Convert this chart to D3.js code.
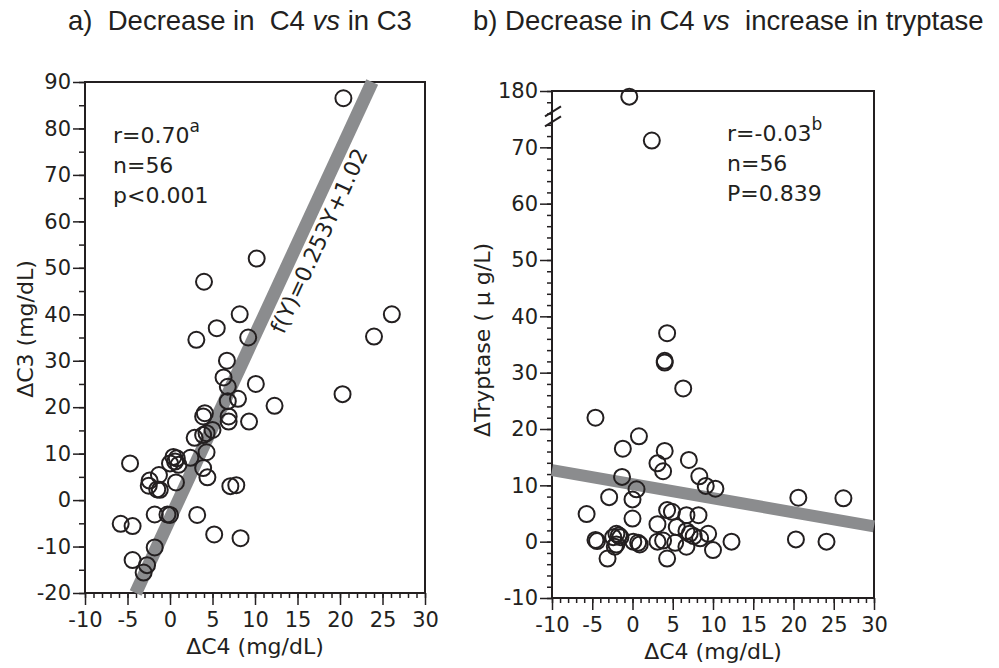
<!DOCTYPE html>
<html>
<head>
<meta charset="utf-8">
<script src="https://cdnjs.cloudflare.com/ajax/libs/d3/7.8.5/d3.min.js"></script>
<style>
  body { margin: 0; background: #fff; }
  svg { display: block; font-family: "DejaVu Sans", sans-serif; }
  .tick line { stroke: #231f20; stroke-width: 1.5px; }
  .tick text { fill: #231f20; }
  .domain { display: none; }
  .note { font-size: 22px; fill: #231f20; }
  .title { font-family: "Liberation Sans", Arial, sans-serif; font-size: 27.5px; fill: #231f20; }
  .axlabel { font-size: 22px; fill: #231f20; }
</style>
</head>
<body>
<svg id="chart" width="999" height="668"></svg>
<script>
// panel a: decrease in C4 (x) vs decrease in C3 (y)
var c4DropA = [20.4, 10.2, 4.0, 8.2, 5.5, 3.1, 9.2, 24.0, 26.1, 6.7, 6.3, 6.8, 10.1, 6.8, 8.0, 12.3, 20.3, 6.9, 6.9, 9.3,
  4.1, 3.9, 2.9, 3.9, 4.3, 5.0, 4.3, 2.4, 3.9, 4.4, 0.4, 0.8, 0.0, 0.6, 1.0, 0.7, -1.3, -2.4, -2.5, -1.5,
  -1.2, -4.7, 7.1, 7.8, -1.8, -0.3, 0.0, 3.2, -5.8, -4.4, 5.2, 8.3, -1.8, -4.4, -2.7, -3.1];
var c3Drop = [86.5, 52, 47, 40, 37, 34.5, 35, 35.2, 40, 30, 26.4, 24.4, 25, 21.3, 21.8, 20.3, 22.8, 18, 16.9, 16.9,
  18.7, 18.0, 13.4, 14.0, 14.4, 15.1, 10.3, 9.1, 6.9, 4.9, 9.3, 9.0, 7.9, 8.3, 7.6, 3.8, 5.4, 4.2, 3.1, 2.3,
  2.2, 7.9, 3.0, 3.2, -3.1, -3.1, -3.2, -3.2, -5.1, -5.6, -7.4, -8.2, -10.2, -12.9, -14, -15.6];

// panel b: decrease in C4 (x) vs increase in tryptase (y)
var c4DropB = [-0.4, 2.4, 4.3, 4.0, 4.0, 6.3, -4.6, 0.8, -1.2, 4.0, 7.0, 3.1, 3.8, -1.3, 8.3, 9.1, 10.3, 0.5, -2.9, 0.0,
  20.6, 26.2, -5.7, 0.0, 4.3, 4.9, 6.7, 8.2, 3.1, 5.5, 6.7, 7.1, 7.6, 9.4, 8.4, -2.0, -1.7, -2.4, -4.6, -4.4,
  -2.0, 0.1, 0.7, 0.9, 3.1, 3.8, 5.3, 6.7, 10.0, 12.3, 20.3, 24.1, -3.1, 4.3, -2.2, -1.5];
var tryptaseRise = [179, 71.2, 37, 32.1, 31.8, 27.2, 22, 18.7, 16.5, 16.1, 14.5, 13.9, 12.5, 11.5, 11.6, 9.9, 9.4, 9.3, 7.9, 7.5,
  7.8, 7.7, 4.9, 4.1, 5.6, 5.3, 4.7, 4.7, 3.1, 2.6, 1.9, 1.4, 1.0, 1.4, 0.6, 1.4, 1.1, 0.8, 0.3, 0.1,
  -0.5, 0.0, -0.2, -0.5, 0.0, 0.2, -0.2, -0.9, -1.5, 0.0, 0.4, 0.0, -3.0, -3.0, -0.9, 0.8];

var xTicks = [-10, -5, 0, 5, 10, 15, 20, 25, 30];
var yTicksA = [-20, -10, 0, 10, 20, 30, 40, 50, 60, 70, 80, 90];
var yTicksB = [-10, 0, 10, 20, 30, 40, 50, 60, 70, 180];

// regression fits
var fitA = { slope: 0.253, intercept: 1.02 };   // C4 = 0.253*C3 + 1.02
var fitB = { slope: -0.25, intercept: 10.2 };   // tryptase = -0.25*C4 + 10.2

var statsA = ["r=0.70", "n=56", "p<0.001"];
var statsB = ["r=-0.03", "n=56", "P=0.839"];

var svg = d3.select("#chart");
var ink = "#231f20", grey = "#8b8c8e";

// y-axis break on panel b: values above 100 are moved down by 100
var brk = function (v) { return v > 100 ? v - 100 : v; };

function styleAxis(sel) {
  sel.attr("font-family", "DejaVu Sans, sans-serif").attr("font-size", 21);
}

function panel(o) {
  var g = svg.append("g");
  var x = d3.scaleLinear().domain([-10, 30]).range([o.left, o.right]);
  var y = d3.scaleLinear().domain(o.yDomain).range([o.bottom, o.top]);

  // minor ticks
  g.append("g").attr("transform", "translate(0," + o.bottom + ")")
    .call(d3.axisBottom(x).tickValues(d3.range(-10, 31, 1)).tickSize(5).tickFormat(""));
  g.append("g").attr("transform", "translate(" + o.left + ",0)")
    .call(d3.axisLeft(y).tickValues(d3.range(o.yDomain[0], o.yDomain[1] + 0.1, o.yMinor)).tickSize(o.yMinorLen).tickFormat(""));

  // major ticks + labels
  g.append("g").attr("transform", "translate(0," + o.bottom + ")")
    .call(d3.axisBottom(x).tickValues(xTicks).tickSize(12).tickPadding(7).tickFormat(function (d) { return String(d); }))
    .call(styleAxis);
  g.append("g").attr("transform", "translate(" + o.left + ",0)")
    .call(d3.axisLeft(y).tickValues(o.yTicks.map(o.yMap)).tickSize(12).tickPadding(2)
      .tickFormat(function (d, i) { return String(o.yTicks[i]); }))
    .call(styleAxis);

  // frame
  g.append("rect").attr("x", o.left).attr("y", o.top)
    .attr("width", o.right - o.left).attr("height", o.bottom - o.top)
    .attr("fill", "none").attr("stroke", ink).attr("stroke-width", 2);

  return { g: g, x: x, y: y };
}

// ---------- panel a ----------
var A = panel({ left: 85, right: 425, top: 82, bottom: 593, yDomain: [-20, 90],
  yTicks: yTicksA, yMap: function (d) { return d; }, yMinor: 5, yMinorLen: 6 });

var fitYa = [-20, 90];
A.g.append("line")
  .attr("x1", A.x(fitA.slope * fitYa[0] + fitA.intercept)).attr("y1", A.y(fitYa[0]))
  .attr("x2", A.x(fitA.slope * fitYa[1] + fitA.intercept)).attr("y2", A.y(fitYa[1]))
  .attr("stroke", grey).attr("stroke-width", 13);

A.g.selectAll("circle.pt").data(c4DropA).enter().append("circle")
  .attr("cx", function (d) { return A.x(d); })
  .attr("cy", function (d, i) { return A.y(c3Drop[i]); })
  .attr("r", 8).attr("fill", "none").attr("stroke", ink).attr("stroke-width", 2);

// equation along the line
var yLab = 57.5;
var ang = Math.atan2(A.y(90) - A.y(-20), A.x(fitA.slope * 90 + fitA.intercept) - A.x(fitA.slope * -20 + fitA.intercept)) * 180 / Math.PI;
A.g.append("text").attr("class", "note")
  .attr("transform", "translate(" + A.x(fitA.slope * yLab + fitA.intercept) + "," + A.y(yLab) + ") rotate(" + ang + ")")
  .attr("y", 26).attr("text-anchor", "middle").text("f(Y)=0.253Y+1.02");

statsA.forEach(function (s, i) {
  var t = A.g.append("text").attr("class", "note").attr("x", 113).attr("y", 143 + i * 30).text(s);
  if (i === 0) t.append("tspan").attr("dy", -11).attr("font-size", 17).text("a");
});

// ---------- panel b ----------
var B = panel({ left: 552, right: 874, top: 91, bottom: 598, yDomain: [-10, 80],
  yTicks: yTicksB, yMap: brk, yMinor: 2, yMinorLen: 5 });

// break marks on the y axis
[-1.4, 0.4].forEach(function (k) {
  B.g.append("line")
    .attr("x1", B.x(-10) - 7).attr("y1", B.y(76 + k) + 5)
    .attr("x2", B.x(-10) + 9).attr("y2", B.y(76 + k) - 5)
    .attr("stroke", ink).attr("stroke-width", 2);
});

B.g.append("line")
  .attr("x1", B.x(-10)).attr("y1", B.y(fitB.intercept + fitB.slope * -10))
  .attr("x2", B.x(30)).attr("y2", B.y(fitB.intercept + fitB.slope * 30))
  .attr("stroke", grey).attr("stroke-width", 12);

B.g.selectAll("circle.pt").data(c4DropB).enter().append("circle")
  .attr("cx", function (d) { return B.x(d); })
  .attr("cy", function (d, i) { return B.y(brk(tryptaseRise[i])); })
  .attr("r", 8).attr("fill", "none").attr("stroke", ink).attr("stroke-width", 2);

statsB.forEach(function (s, i) {
  var t = B.g.append("text").attr("class", "note").attr("x", 727).attr("y", 141 + i * 30).text(s);
  if (i === 0) t.append("tspan").attr("dy", -11).attr("font-size", 17).text("b");
});

// ---------- titles and axis labels ----------
var tA = svg.append("text").attr("class", "title").attr("x", 68).attr("y", 30).style("white-space", "pre");
tA.append("tspan").text("a)  Decrease in  C4 ");
tA.append("tspan").attr("font-style", "italic").text("vs");
tA.append("tspan").text(" in C3");

var tB = svg.append("text").attr("class", "title").attr("x", 473).attr("y", 30).style("white-space", "pre");
tB.append("tspan").text("b) Decrease in C4 ");
tB.append("tspan").attr("font-style", "italic").text("vs");
tB.append("tspan").text("  increase in tryptase");

svg.append("text").attr("class", "axlabel").attr("text-anchor", "middle")
  .attr("transform", "translate(33,329) rotate(-90)").text("ΔC3 (mg/dL)");
svg.append("text").attr("class", "axlabel").attr("text-anchor", "middle").style("white-space", "pre")
  .attr("transform", "translate(490,340) rotate(-90)").text("ΔTryptase ( μ g/L)");
svg.append("text").attr("class", "axlabel").attr("text-anchor", "middle")
  .attr("x", 255).attr("y", 654).text("ΔC4 (mg/dL)");
svg.append("text").attr("class", "axlabel").attr("text-anchor", "middle")
  .attr("x", 713).attr("y", 659).text("ΔC4 (mg/dL)");
</script>
</body>
</html>
